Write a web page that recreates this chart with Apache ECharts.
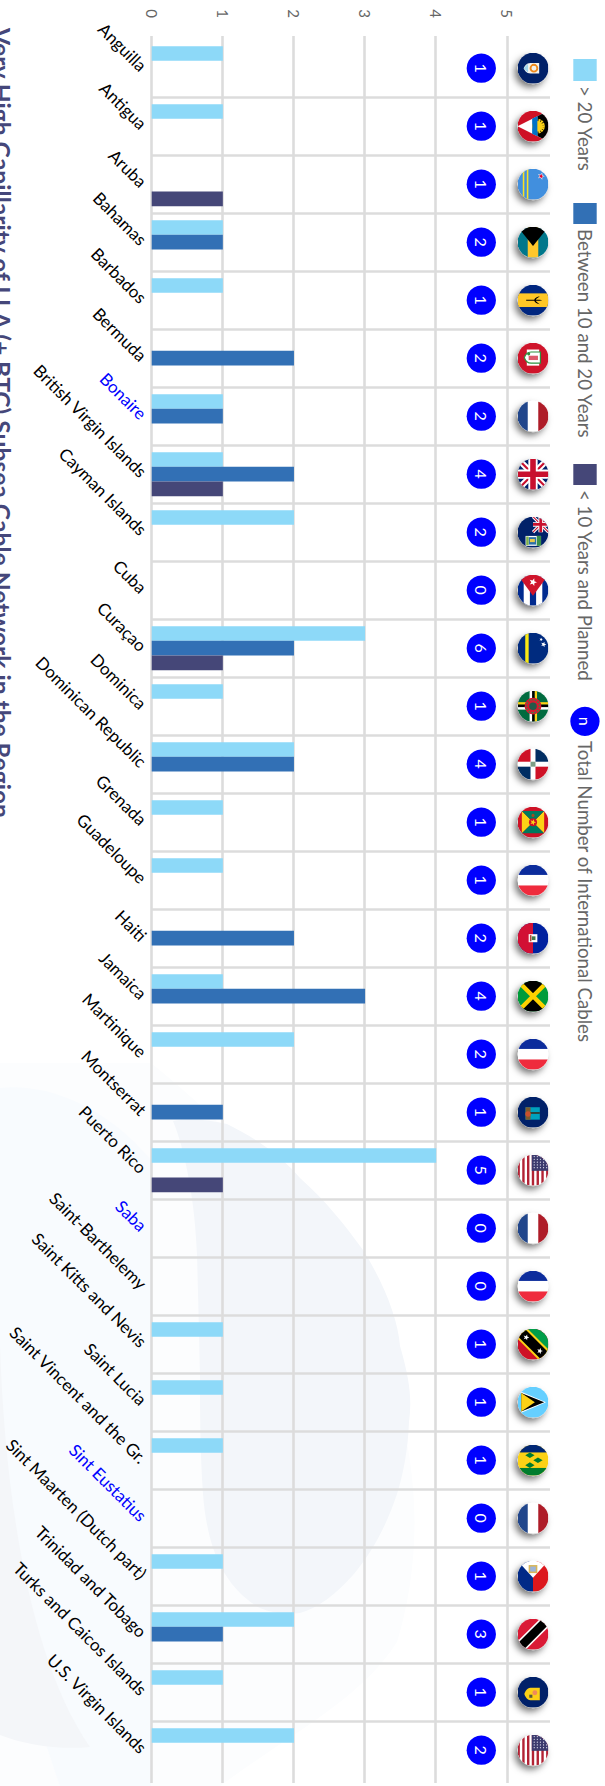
<!DOCTYPE html>
<html><head><meta charset="utf-8">
<style>
html,body{margin:0;padding:0;background:#fff;width:605px;height:1786px;overflow:hidden}
#chart{position:absolute;left:0;top:0;width:1786px;height:605px;transform-origin:0 0;transform:translateX(605px) rotate(90deg)}
</style>
<script src="https://cdn.jsdelivr.net/npm/echarts@6/dist/echarts.min.js"></script>
</head><body><div id="chart"></div>
<script>
const titleText = 'Very High Capillarity of LLA (+ BTC) Subsea Cable Network in the Region';
const categories = ['Anguilla','Antigua','Aruba','Bahamas','Barbados','Bermuda','Bonaire','British Virgin Islands','Cayman Islands','Cuba','Curaçao','Dominica','Dominican Republic','Grenada','Guadeloupe','Haiti','Jamaica','Martinique','Montserrat','Puerto Rico','Saba','Saint-Barthelemy','Saint Kitts and Nevis','Saint Lucia','Saint Vincent and the Gr.','Sint Eustatius','Sint Maarten (Dutch part)','Trinidad and Tobago','Turks and Caicos Islands','U.S. Virgin Islands'];
const blueCategories = ['Bonaire','Saba','Sint Eustatius'];
const over20 =    [1,1,0,1,1,0,1,1,2,0,3,1,2,1,1,0,1,2,0,4,0,0,1,1,1,0,1,2,1,2];
const between =   [0,0,0,1,0,2,1,2,0,0,2,0,2,0,0,2,3,0,1,0,0,0,0,0,0,0,0,1,0,0];
const under10 =   [0,0,1,0,0,0,0,1,0,0,1,0,0,0,0,0,0,0,0,1,0,0,0,0,0,0,0,0,0,0];
const totals =    [1,1,1,2,1,2,2,4,2,0,6,1,4,1,1,2,4,2,1,5,0,0,1,1,1,0,1,3,1,2];
const flagKeys = ['ai','ag','aw','bs','bb','bm','nl','uk','ky','cu','cw','dm','do','gd','fr','ht','jm','fr','ms','us','nl','fr','kn','lc','vc','nl','sx','tt','tc','us'];
const tickValues = [0,1,2,3,4,5];
const seriesNames = ['> 20 Years','Between 10 and 20 Years','< 10 Years and Planned','Total Number of International Cables'];

const C1='#8dd9f8', C2='#3270b5', C3='#454778', GRID='#dcdcdc', BLUE='#0000ff', FONT='Lato, "Open Sans", sans-serif';
const UNIT=71.13, ZERO_Y=453.3, GRID_TOP=55;
const BADGE_AT=(481.3-151.7)/UNIT, FLAG_AT=(533-151.7)/UNIT, TOP_VAL=(ZERO_Y-GRID_TOP)/UNIT;

const NAVY='#012169';
const union=(s)=>`<g transform="scale(${s})"><rect width="100" height="100" fill="${NAVY}"/><path d="M0 0L100 100M100 0L0 100" stroke="#fff" stroke-width="20"/><path d="M0 0L100 100M100 0L0 100" stroke="#c8102e" stroke-width="7"/><path d="M50 0V100M0 50H100" stroke="#fff" stroke-width="30"/><path d="M50 0V100M0 50H100" stroke="#c8102e" stroke-width="18"/></g>`;
const usa=`<rect width="100" height="100" fill="#fff"/>`+[0,2,4,6,8,10,12].map(i=>`<rect y="${i*7.7}" width="100" height="7.7" fill="#b22234"/>`).join('')+`<rect width="52" height="54" fill="#3c3b6e"/>`+[6,16,26,36,46].map(y=>[6,15,24,33,42].map(x=>`<circle cx="${x}" cy="${y}" r="2" fill="#dfe0ee"/>`).join('')).join('');
const star=(x,y,r,f)=>{let p=[];for(let i=0;i<10;i++){const a=-Math.PI/2+i*Math.PI/5,q=i%2?r*0.42:r;p.push((x+q*Math.cos(a)).toFixed(1)+' '+(y+q*Math.sin(a)).toFixed(1));}return `<polygon points="${p.join(',')}" fill="${f}"/>`;};
const flags={
 ai:`<rect width="100" height="100" fill="${NAVY}"/><path d="M33 30H67V58C67 72 55 78 50 80C45 78 33 72 33 58Z" fill="#f4f4ee"/><circle cx="50" cy="47" r="11" fill="none" stroke="#f08a1d" stroke-width="6"/><path d="M36 66H64L50 80Z" fill="#9fd4ec"/>`,
 ag:`<rect width="100" height="100" fill="#ce1126"/><path d="M0 0H100L50 100Z" fill="#fff"/><path d="M0 0H100L82 36H18Z" fill="#000"/><path d="M18 36H82L74 52H26Z" fill="#0072c6"/><circle cx="50" cy="36" r="17" fill="#fcd116"/>`+[-70,-45,-20,20,45,70,0].map(a=>`<path d="M50 36L46 12H54Z" fill="#fcd116" transform="rotate(${a} 50 36)"/>`).join('')+`<path d="M18 36H82L74 52H26Z" fill="#0072c6"/>`,
 aw:`<rect width="100" height="100" fill="#418fde"/><rect y="65" width="100" height="5" fill="#fbe122"/><rect y="78" width="100" height="5" fill="#fbe122"/>`+star(24,24,12,'#f4f4f4')+star(24,24,8,'#e4002b'),
 bs:`<rect width="100" height="100" fill="#00778b"/><rect y="33" width="100" height="34" fill="#ffc72c"/><path d="M0 0L62 50L0 100Z" fill="#000"/>`,
 bb:`<rect width="100" height="100" fill="#00267f"/><rect x="28" width="44" height="100" fill="#ffc726"/><path d="M48.5 72V46C43 44 38 37 37 28C41 33 44 39 48.5 41V28L50 20L51.5 28V41C56 39 59 33 63 28C62 37 57 44 51.5 46V72Z" fill="#000"/>`,
 bm:`<rect width="100" height="100" fill="#cf142b"/><rect x="22" y="30" width="52" height="40" fill="#fff"/><path d="M30 26H66V56C66 70 54 76 48 78C42 76 30 70 30 56Z" fill="#fff" stroke="#2d8f3c" stroke-width="4"/><rect x="42" y="34" width="14" height="30" fill="#cf142b" opacity=".7"/><circle cx="36" cy="64" r="5" fill="#2d8f3c"/>`,
 nl:`<rect width="100" height="100" fill="#fff"/><rect width="100" height="33" fill="#ae1c28"/><rect y="67" width="100" height="33" fill="#21468b"/>`,
 uk:union(1),
 ky:`<rect width="100" height="100" fill="${NAVY}"/>`+union(.5)+`<rect x="62" y="24" width="32" height="50" fill="#fff"/><rect x="62" y="24" width="32" height="14" fill="#3a8f4a"/><rect x="66" y="40" width="24" height="24" fill="#2a6fa8"/><rect x="72" y="44" width="10" height="16" fill="#e8c84a"/><rect x="64" y="64" width="28" height="8" fill="#7fb04a"/>`,
 cu:`<rect width="100" height="100" fill="#002a8f"/><rect y="20" width="100" height="20" fill="#fff"/><rect y="60" width="100" height="20" fill="#fff"/><path d="M0 0L68 50L0 100Z" fill="#cf142b"/>`+star(24,50,13,'#fff'),
 cw:`<rect width="100" height="100" fill="#002b7f"/><rect y="64" width="100" height="11" fill="#f9e814"/>`+star(22,24,6,'#fff')+star(38,16,9,'#fff'),
 dm:`<rect width="100" height="100" fill="#006b3f"/><rect x="37" width="8" height="100" fill="#fcd116"/><rect x="45" width="8" height="100" fill="#000"/><rect x="53" width="8" height="100" fill="#fff"/><rect y="37" width="100" height="8" fill="#fcd116"/><rect y="45" width="100" height="8" fill="#000"/><rect y="53" width="100" height="8" fill="#fff"/><circle cx="50" cy="50" r="27" fill="#d41c30"/><circle cx="50" cy="50" r="12" fill="#24594a"/><circle cx="50" cy="50" r="21" fill="none" stroke="#2b8a4f" stroke-width="4" stroke-dasharray="5 5"/>`,
 do:`<rect width="100" height="100" fill="#fff"/><rect width="42" height="42" fill="#002d62"/><rect x="58" width="42" height="42" fill="#ce1126"/><rect y="58" width="42" height="42" fill="#ce1126"/><rect x="58" y="58" width="42" height="42" fill="#002d62"/><rect x="42" y="42" width="16" height="16" fill="#7d9e86"/>`,
 gd:`<rect width="100" height="100" fill="#ce1126"/><path d="M14 14H86L50 50Z M14 86H86L50 50Z" fill="#fcd116"/><path d="M14 14L50 50L14 86Z M86 14L50 50L86 86Z" fill="#007a5e"/><circle cx="50" cy="50" r="13" fill="#ce1126"/>`+star(50,50,10,'#fcd116')+`<circle cx="28" cy="50" r="5" fill="#a44a1f"/>`,
 fr:`<rect width="100" height="100" fill="#fff"/><rect width="33" height="100" fill="#0c2c9c"/><rect x="67" width="33" height="100" fill="#ef2b3d"/>`,
 ht:`<rect width="100" height="100" fill="#00209f"/><rect y="50" width="100" height="50" fill="#d21034"/><rect x="37" y="36" width="26" height="28" fill="#fff"/><rect x="44" y="42" width="12" height="12" fill="#3f7a4a"/><rect x="40" y="55" width="20" height="5" fill="#b04a3a"/>`,
 jm:`<rect width="100" height="100" fill="#009b3a"/><path d="M0 0L50 50L0 100Z M100 0L50 50L100 100Z" fill="#000"/><path d="M0 0L100 100M100 0L0 100" stroke="#fed100" stroke-width="14"/>`,
 ms:`<rect width="100" height="100" fill="${NAVY}"/><rect x="34" y="28" width="40" height="46" fill="#00a2bd"/><path d="M34 58H74V74H34Z" fill="#7d5a2e"/><rect x="50" y="28" width="5" height="36" fill="#3a2a1a"/><circle cx="56" cy="66" r="9" fill="#c8502e"/>`,
 us:usa,
 kn:`<rect width="100" height="100" fill="#ce1126"/><path d="M0 0H100L0 100Z" fill="#009e49"/><path d="M0 100L100 0" stroke="#fcd116" stroke-width="46"/><path d="M0 100L100 0" stroke="#000" stroke-width="33"/>`+star(28,72,10,'#fff')+star(72,28,10,'#fff'),
 lc:`<rect width="100" height="100" fill="#65cfff"/><path d="M50 8L84 88H16Z" fill="#fff"/><path d="M50 14L80 88H20Z" fill="#000"/><path d="M50 44L80 88H20Z" fill="#fcd116"/>`,
 vc:`<rect width="100" height="100" fill="#fcd116"/><rect width="25" height="100" fill="#002674"/><rect x="75" width="25" height="100" fill="#007c2e"/>`+[[50,34],[34,60],[66,60]].map(p=>`<path d="M${p[0]} ${p[1]-15}L${p[0]+9} ${p[1]}L${p[0]} ${p[1]+15}L${p[0]-9} ${p[1]}Z" fill="#007c2e"/>`).join(''),
 sx:`<rect width="100" height="50" fill="#dc171d"/><rect y="50" width="100" height="50" fill="#012a87"/><path d="M0 0L55 50L0 100Z" fill="#fff"/><rect x="14" y="36" width="26" height="28" fill="#d9b65a"/><rect x="19" y="41" width="16" height="18" fill="#9db4d8"/>`,
 tt:`<rect width="100" height="100" fill="#da1a35"/><path d="M0 0L100 100" stroke="#fff" stroke-width="38"/><path d="M0 0L100 100" stroke="#000" stroke-width="28"/>`,
 tc:`<rect width="100" height="100" fill="${NAVY}"/><path d="M36 28H76V58C76 70 62 76 56 78C50 76 36 70 36 58Z" fill="#fcd116"/><circle cx="52" cy="44" r="8" fill="#f08a5a"/><rect x="58" y="52" width="10" height="10" fill="#5a5a3a"/>`
};
const flagUri=k=>'image://data:image/svg+xml;charset=utf-8,'+encodeURIComponent(`<svg xmlns="http://www.w3.org/2000/svg" viewBox="0 0 100 100" width="62" height="62"><defs><clipPath id="c"><circle cx="50" cy="50" r="50"/></clipPath></defs><g clip-path="url(#c)">${flags[k]}</g></svg>`);

const blobs={
 blobFaint:'M0 1063L151 1063C420 1280 440 1500 397 1642C360 1700 293 1732 220 1786L0 1786Z',
 blobLight:'M0 1088C40 1083 100 1100 151 1160L151 1786L60 1786C30 1700 0 1600 0 1500Z',
 blobLow:'M0 1345C5 1500 30 1660 90 1747C60 1750 25 1745 0 1735Z',
 blobMain:'M173 1121C190 1118 210 1120 227 1124C260 1140 285 1160 300 1178C325 1200 345 1225 363 1250C385 1285 398 1320 400 1346C410 1380 412 1400 409 1422C408 1450 403 1475 397 1494C385 1530 370 1555 353 1575C335 1595 318 1608 300 1613C285 1615 272 1613 260 1608C245 1600 230 1585 220 1565C210 1545 205 1520 203 1494C200 1450 200 1410 200 1374C199 1330 198 1290 197 1255C195 1200 185 1150 173 1121Z'
};
Object.keys(blobs).forEach(k=>echarts.graphic.registerShape(k,echarts.graphic.extendPath(blobs[k])));

const leg=(name,left,top,w,h,icon)=>({data:[name],left,top,itemWidth:w,itemHeight:h,icon,selectedMode:false,orient:'horizontal',padding:0,textStyle:{fontFamily:FONT,fontSize:18.7,color:'#666'}});
const barSeries=(name,data,color)=>({name,type:'bar',xAxisIndex:0,yAxisIndex:0,data,barWidth:14.67,barGap:'0%',itemStyle:{color},z:3});

const chart=echarts.init(document.getElementById('chart'),null,{renderer:'svg',width:1786,height:605});
chart.setOption({
 animation:false,
 backgroundColor:'transparent',
 title:{text:titleText,left:28,top:591,padding:0,textStyle:{fontFamily:FONT,fontSize:24.6,fontWeight:'bold',color:'#45477a'}},
 legend:[
  leg(seriesNames[0],59,8.3,22,23.4,'rect'),
  leg(seriesNames[1],203,8.3,21,23.4,'rect'),
  leg(seriesNames[2],464,8.3,21,23.4,'rect'),
  leg(seriesNames[3],706.7,5.4,29.3,29.3,'circle')
 ],
 grid:[
  {left:39.2,width:1740,top:GRID_TOP,height:ZERO_Y-GRID_TOP},
  {left:36,width:1747,top:ZERO_Y-5*UNIT,height:5*UNIT}
 ],
 xAxis:[
  {gridIndex:0,type:'category',data:categories.map(c=>({value:c,textStyle:{color:blueCategories.includes(c)?BLUE:'#000'}})),
   axisLine:{show:false},axisTick:{show:false},
   axisLabel:{interval:0,rotate:45,margin:8,fontFamily:FONT,fontSize:17},
   splitLine:{show:true,interval:0,showMinLine:false,showMaxLine:false,lineStyle:{color:GRID,width:2.6}}},
  {gridIndex:1,type:'value',min:0,max:1,show:false}
 ],
 yAxis:[
  {gridIndex:0,type:'value',min:0,max:TOP_VAL,show:false,splitLine:{show:false}},
  {gridIndex:1,type:'value',min:tickValues[0],max:tickValues[5],interval:1,
   axisLine:{show:false},axisTick:{show:false},
   axisLabel:{margin:18,padding:[4,0,0,0],fontFamily:FONT,fontSize:15,color:'#666'},
   splitLine:{show:true,lineStyle:{color:GRID,width:2.6}}}
 ],
 series:[
  barSeries(seriesNames[0],over20,C1),
  barSeries(seriesNames[1],between,C2),
  barSeries(seriesNames[2],under10,C3),
  {name:seriesNames[3],type:'scatter',xAxisIndex:0,yAxisIndex:0,symbol:'circle',symbolSize:29.3,z:4,
   itemStyle:{color:BLUE,opacity:1},
   data:categories.map((c,i)=>({value:[c,BADGE_AT],total:totals[i]})),
   label:{show:true,position:'inside',color:'#fff',fontFamily:FONT,fontSize:16,formatter:p=>String(p.data.total)}},
  {name:'flag shadow',type:'scatter',xAxisIndex:0,yAxisIndex:0,symbol:'circle',symbolSize:30.5,z:4,
   itemStyle:{color:'#fff',opacity:1,shadowColor:'rgba(0,0,0,0.55)',shadowBlur:7,shadowOffsetX:4,shadowOffsetY:3},
   data:categories.map(c=>[c,FLAG_AT])},
  {name:'flags',type:'scatter',xAxisIndex:0,yAxisIndex:0,symbolSize:31,z:5,
   itemStyle:{opacity:1},
   data:categories.map((c,i)=>({value:[c,FLAG_AT],symbol:flagUri(flagKeys[i])}))}
 ],
 graphic:[
  {type:'group',x:0,y:605,rotation:Math.PI/2,silent:true,z:-1,children:[
   {type:'blobFaint',z:-4,style:{fill:'#fcfdfe'}},
   {type:'blobLight',z:-3,style:{fill:'#f8fbfe'}},
   {type:'blobLow',z:-3,style:{fill:'#f4f6f9'}},
   {type:'blobMain',z:-2,style:{fill:'#f3f6fa'}}
  ]},
  {type:'text',x:721.3,y:20,z:100,silent:true,style:{text:'n',fill:'#fff',fontFamily:FONT,fontSize:16,align:'center',verticalAlign:'middle'}}
 ]
});
</script></body></html>
